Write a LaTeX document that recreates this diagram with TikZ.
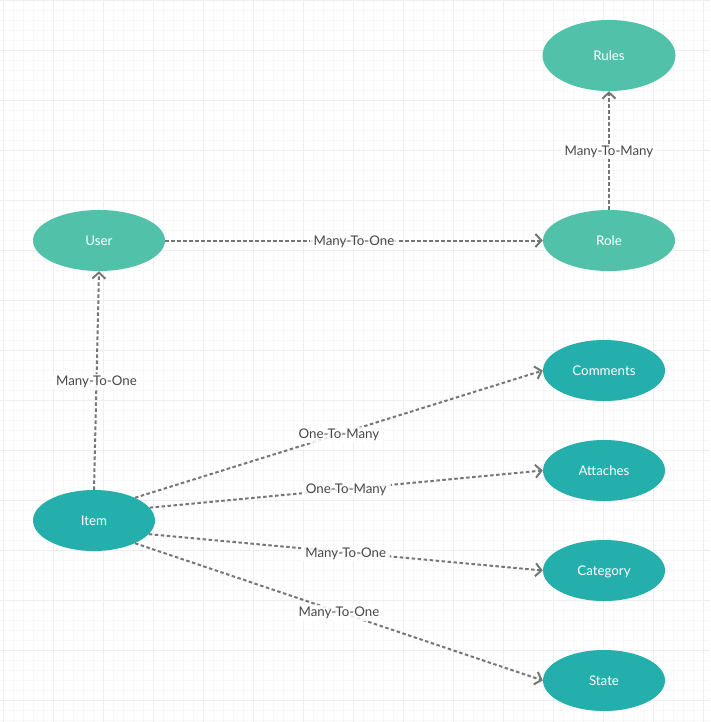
\documentclass[tikz,border=0pt]{standalone}
\usepackage{fontspec}
\setmainfont{Lato}
\usetikzlibrary{shapes.geometric,arrows.meta}
\definecolor{mint}{RGB}{82,193,170}
\definecolor{tealc}{RGB}{36,175,173}
\definecolor{edgegray}{RGB}{118,118,118}
\definecolor{labelgray}{RGB}{72,72,72}
\definecolor{gridminor}{RGB}{248,248,248}
\definecolor{gridmajor}{RGB}{238,238,238}
\begin{document}
\begin{tikzpicture}[x=1pt,y=-1pt,
  ent/.style={ellipse, draw=none, inner sep=0pt, text=white,
    font=\fontsize{13.3}{15}\selectfont, text depth=0.5pt},
  entA/.style={ent, fill=mint, minimum width=132pt, minimum height=61pt},
  entB/.style={ent, fill=tealc, minimum width=122pt, minimum height=61pt},
  rel/.style={draw=edgegray, line width=2pt, dash pattern=on 3.5pt off 2.5pt,
    -{Straight Barb[length=6pt,width=13pt,line width=2pt]}},
  lbl/.style={midway, fill=white, fill opacity=0.85, text opacity=1,
    text=labelgray, inner xsep=4pt, inner ysep=2pt, yshift=-1pt,
    font=\fontsize{13.3}{15}\selectfont}]
\useasboundingbox (0,0) rectangle (710,722);
\fill[white] (0,0) rectangle (710,722);
% grid
\foreach \i in {0,...,70} {
  \draw[gridminor, line width=1pt] (3.5+10*\i,0) -- (3.5+10*\i,722);
}
\foreach \j in {0,...,72} {
  \draw[gridminor, line width=1pt] (0,0.5+10*\j) -- (710,0.5+10*\j);
}
\foreach \i in {0,...,14} {
  \draw[gridmajor, line width=1pt] (3.5+50*\i,0) -- (3.5+50*\i,722);
}
\foreach \j in {0,...,14} {
  \draw[gridmajor, line width=1pt] (0,0.5+50*\j) -- (710,0.5+50*\j);
}
% nodes
\node[entA, minimum width=133pt, minimum height=71pt] (rules) at (609,55.5) {Rules};
\node[entA] (user) at (99,240.5) {User};
\node[entA] (role) at (609,240.5) {Role};
\node[entB] (item) at (94,520.5) {Item};
\node[entB] (comments) at (604,370.5) {Comments};
\node[entB] (attaches) at (604,470.5) {Attaches};
\node[entB] (category) at (604,570.5) {Category};
\node[entB] (state) at (604,680.5) {State};
% connectors
\draw[rel] (user.east) -- node[lbl] {Many-To-One} (role.west);
\draw[rel] (role.north) -- node[lbl] {Many-To-Many} (rules.south);
\draw[rel] (item.north) -- node[lbl] {Many-To-One} (user.south);
\draw[rel] (item.29) -- node[lbl] {One-To-Many} (comments.west);
\draw[rel] (item.13) -- node[lbl] {One-To-Many} (attaches.west);
\draw[rel] (item.-14) -- node[lbl] {Many-To-One} (category.west);
\draw[rel] (item.-29) -- node[lbl] {Many-To-One} (state.west);
\end{tikzpicture}
\end{document}
